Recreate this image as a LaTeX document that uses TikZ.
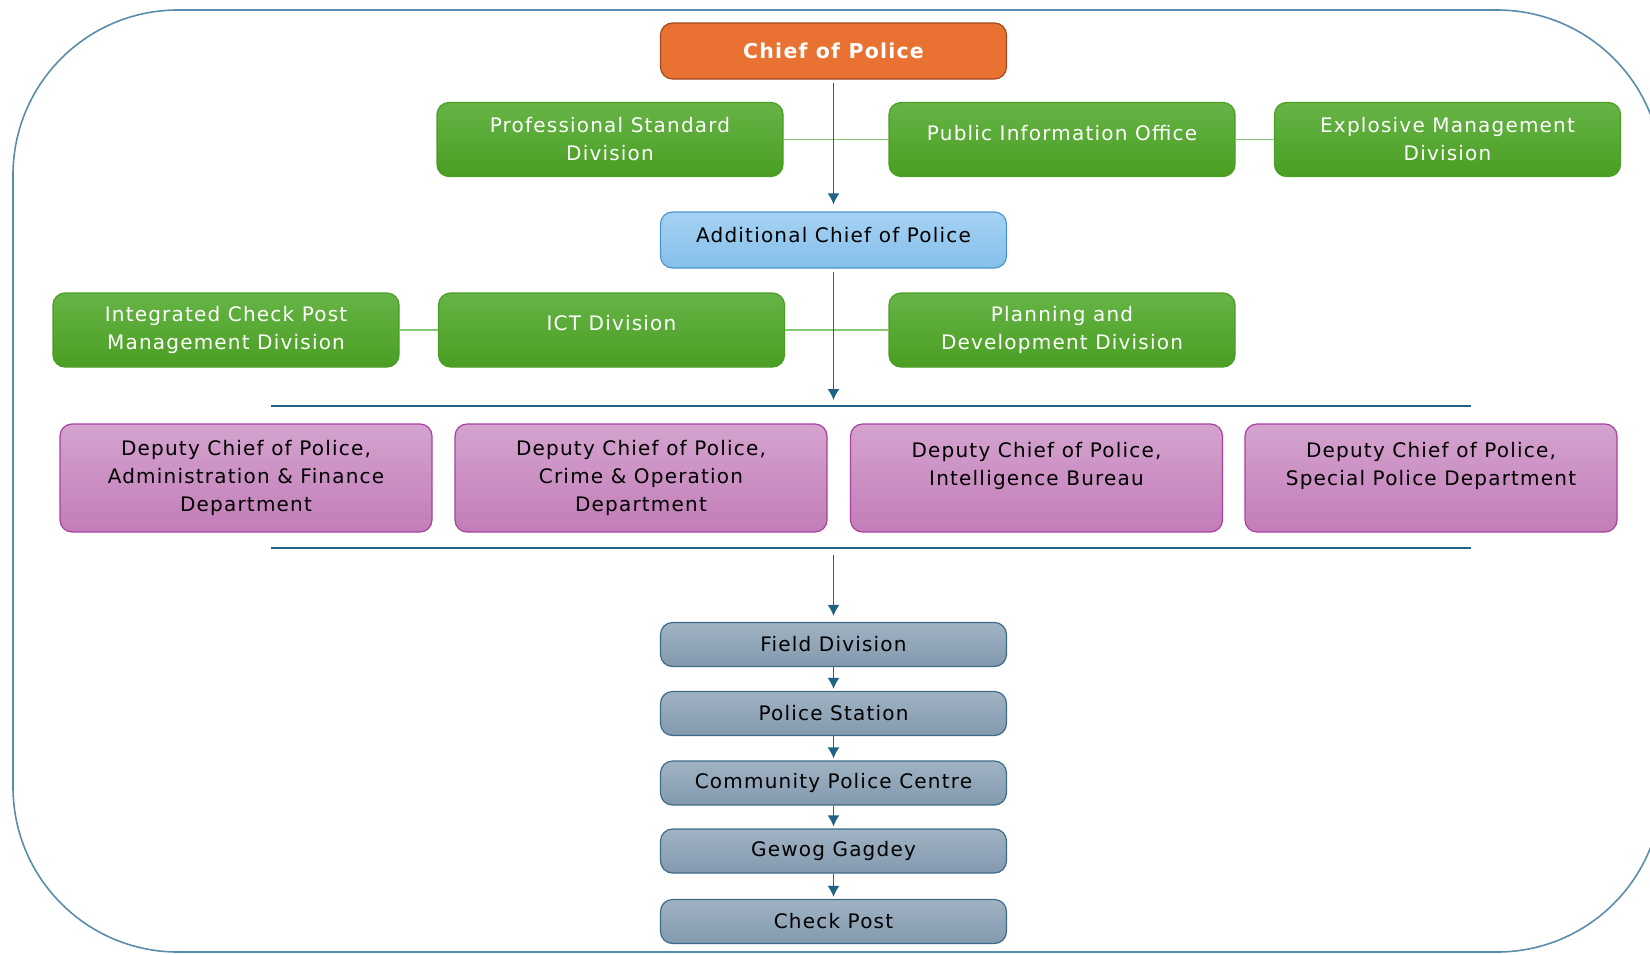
\documentclass[tikz,border=0pt]{standalone}
\usepackage{fontspec}
\setmainfont{DejaVu Sans}[LetterSpace=6]
\usepackage{tikz}
\usetikzlibrary{arrows.meta}

\definecolor{orgfill}{HTML}{E97132}
\definecolor{orgline}{HTML}{A04A1E}
\definecolor{grntop}{HTML}{66B447}
\definecolor{grnbot}{HTML}{4A9E22}
\definecolor{grnlink}{HTML}{86C873}
\definecolor{blutop}{HTML}{A6D2F3}
\definecolor{blubot}{HTML}{85BFEA}
\definecolor{bluline}{HTML}{4C95CF}
\definecolor{purtop}{HTML}{D4A3CE}
\definecolor{purbot}{HTML}{C27DB8}
\definecolor{purline}{HTML}{A8409F}
\definecolor{grytop}{HTML}{A0B3C3}
\definecolor{grybot}{HTML}{8299AE}
\definecolor{gryline}{HTML}{3D6A88}
\definecolor{arrcol}{HTML}{1F6284}
\definecolor{framecol}{HTML}{5A8CAB}

\begin{document}
\begin{tikzpicture}[x=1pt, y=-1pt,
    box/.style={rectangle, rounded corners=12pt, align=center, inner sep=0pt,
        minimum width=346pt, font=\fontsize{20}{28}\selectfont, line width=1.2pt},
    chiefbox/.style={box, fill=orgfill, draw=orgline, text=white, minimum height=56pt,
        font=\fontsize{20.5}{28}\selectfont\bfseries},
    divbox/.style={box, top color=grntop, bottom color=grnbot, draw=grnbot, text=white, minimum height=74pt},
    addbox/.style={box, top color=blutop, bottom color=blubot, draw=bluline, minimum height=56pt},
    depbox/.style={box, top color=purtop, bottom color=purbot, draw=purline, minimum width=372pt, minimum height=108pt},
    unitbox/.style={box, top color=grytop, bottom color=grybot, draw=gryline, minimum height=44pt},
    arr/.style={draw=arrcol, line width=1.5pt, -{Latex[length=11pt,width=12pt]}},
    link/.style={draw=grnlink, line width=1.5pt},
    bar/.style={draw=arrcol, line width=1.5pt}]

        \useasboundingbox (0,0) rectangle (1650,954);
        \clip (0,0) rectangle (1650,954);

        % cornice
        \draw[framecol, line width=1.6pt, rounded corners=165pt] (13,10) rectangle (1662,952);

        % vertice
        \node[chiefbox] (chief) at (833.5,51) {Chief of Police};
        \node[divbox] (psd) at (610,139.5) {Professional Standard\\Division};
        \node[divbox, text depth=14pt] (pio) at (1062,139.5) {Public Information Office};
        \node[divbox] (emd) at (1447.5,139.5) {Explosive Management\\Division};
        \node[addbox, text depth=10pt] (acp) at (833.5,240) {Additional Chief of Police};
        \node[divbox] (icpm) at (226,330) {Integrated Check Post\\Management Division};
        \node[divbox, text depth=14pt] (ict) at (611.5,330) {ICT Division};
        \node[divbox] (pdd) at (1062,330) {Planning and\\Development Division};

        % barre orizzontali
        \coordinate (b1w) at (271,406);
        \coordinate (b1e) at (1471,406);
        \coordinate (b2w) at (271,548);
        \coordinate (b2e) at (1471,548);

        % vice capi
        \node[depbox] (dcp1) at (246,478) {Deputy Chief of Police,\\Administration \& Finance\\Department};
        \node[depbox] (dcp2) at (641,478) {Deputy Chief of Police,\\Crime \& Operation\\Department};
        \node[depbox] (dcp3) at (1036.5,478) {Deputy Chief of Police,\\Intelligence Bureau\\~};
        \node[depbox] (dcp4) at (1431,478) {Deputy Chief of Police,\\Special Police Department\\~};

        % unita sul territorio
        \node[unitbox] (field) at (833.5,644.5) {Field Division};
        \node[unitbox] (ps) at (833.5,713.5) {Police Station};
        \node[unitbox] (cpc) at (833.5,783) {Community Police Centre};
        \node[unitbox] (gg) at (833.5,851) {Gewog Gagdey};
        \node[unitbox] (cp) at (833.5,921.5) {Check Post};

        % Archi
        \draw[link] (psd) -- (pio);
        \draw[link] (pio) -- (emd);
        \draw[link] (icpm) -- (ict);
        \draw[link] (ict) -- (pdd);
        \draw[arr, shorten <=3pt, shorten >=7pt] (chief) -- (acp);
        \draw[arr, shorten <=3pt, shorten >=6pt] (acp) -- (acp |- b1w);
        \draw[bar] (b1w) -- (b1e);
        \draw[bar] (b2w) -- (b2e);
        \draw[arr, shorten <=7pt, shorten >=6pt] (acp |- b2w) -- (field);
        \draw[arr, shorten >=2pt] (field) -- (ps);
        \draw[arr, shorten >=2pt] (ps) -- (cpc);
        \draw[arr, shorten >=2pt] (cpc) -- (gg);
        \draw[arr, shorten >=2pt] (gg) -- (cp);
\end{tikzpicture}
\end{document}
